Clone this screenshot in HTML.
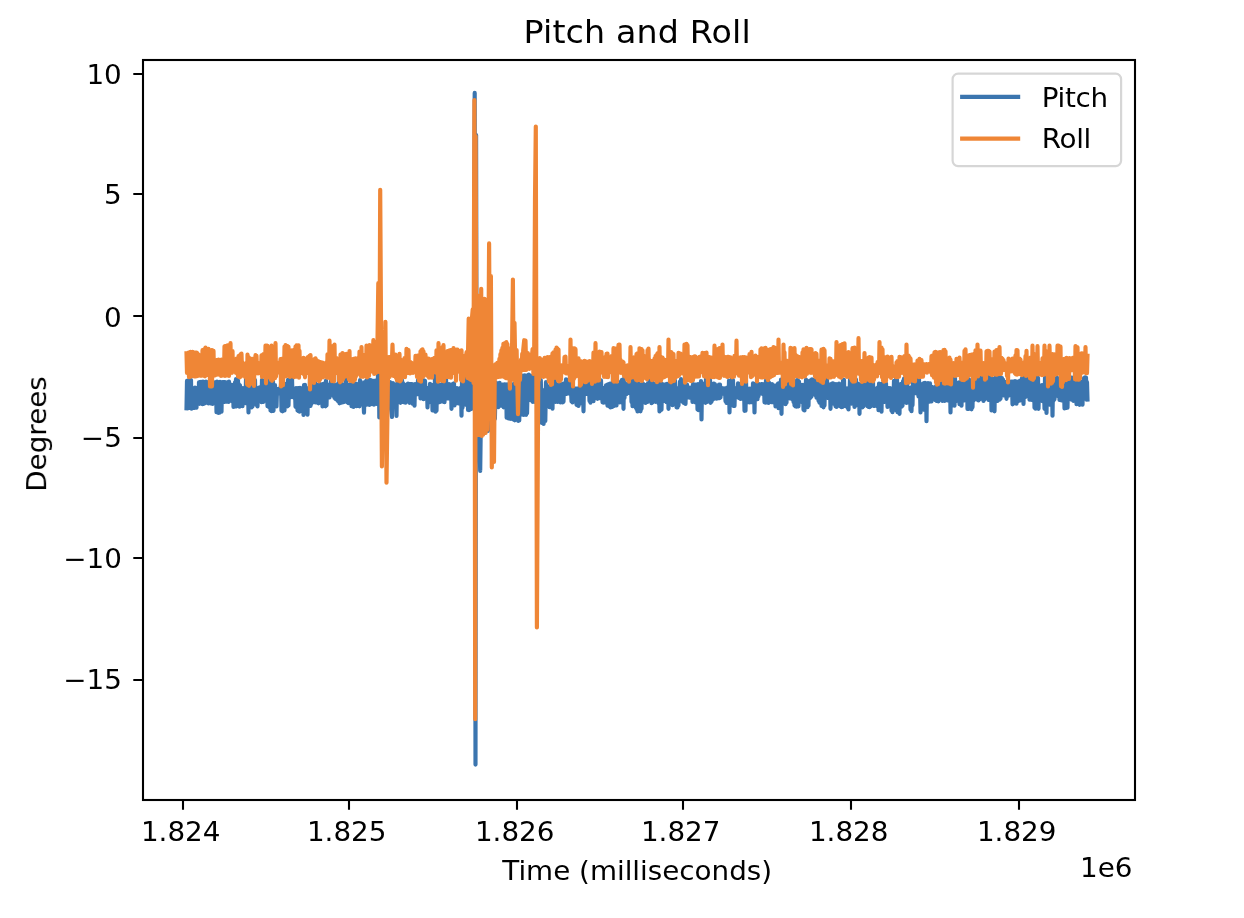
<!DOCTYPE html>
<html lang="en"><head><meta charset="utf-8"><title>Pitch and Roll</title>
<style>html,body{margin:0;padding:0;background:#fff}svg{display:block}</style></head>
<body>
<svg width="1244" height="918" viewBox="0 0 1244 918" font-family="DejaVu Sans, Liberation Sans, sans-serif" fill="#000">
<rect width="1244" height="918" fill="#fff"/>
<defs><filter id="soft" x="0" y="0" width="100%" height="100%" filterUnits="userSpaceOnUse" color-interpolation-filters="sRGB"><feGaussianBlur stdDeviation="0.75"/></filter></defs>
<g filter="url(#soft)">
<g fill="none" stroke-width="4.17" stroke-linejoin="round" stroke-linecap="square">
<path d="M186.50 408.3 L187.00 380.9 L187.50 408.3 L188.00 380.5 L188.50 407.9 L189.00 380.4 L189.50 407.8 L190.00 380.3 L190.50 407.0 L191.00 380.1 L191.50 408.6 L192.00 389.5 L192.50 407.0 L193.00 388.7 L193.50 408.0 L194.00 389.2 L194.50 407.8 L195.00 387.6 L195.50 407.7 L196.00 388.7 L196.50 407.6 L197.00 387.8 L197.50 402.4 L198.00 388.5 L198.50 402.8 L199.00 382.3 L199.50 403.8 L200.00 382.0 L200.50 402.6 L201.00 381.9 L201.50 403.3 L202.00 382.7 L202.50 404.2 L203.00 381.7 L203.50 403.9 L204.00 382.3 L204.50 403.5 L205.00 382.4 L205.50 402.8 L206.00 381.6 L206.50 402.2 L207.00 382.0 L207.50 403.0 L208.00 382.6 L208.50 403.4 L209.00 382.4 L209.50 402.9 L210.00 381.6 L210.50 403.3 L211.00 381.9 L211.50 403.0 L212.00 382.2 L212.50 404.0 L213.00 382.3 L213.50 403.0 L214.00 382.4 L214.50 402.6 L215.00 382.7 L215.50 403.1 L216.00 382.1 L216.50 412.2 L217.00 381.7 L217.50 411.1 L218.00 382.3 L218.50 413.0 L219.00 382.3 L219.50 412.7 L220.00 381.9 L220.50 412.0 L221.00 382.4 L221.50 411.7 L222.00 382.3 L222.50 401.8 L223.00 382.1 L223.50 401.3 L224.00 382.4 L224.50 401.9 L225.00 382.0 L225.50 401.5 L226.00 382.9 L226.50 401.7 L227.00 382.8 L227.50 401.4 L228.00 382.0 L228.50 402.0 L229.00 381.6 L229.50 400.6 L230.00 385.1 L230.50 400.6 L231.00 384.6 L231.50 400.8 L232.00 385.0 L232.50 401.5 L233.00 384.9 L233.50 407.0 L234.00 385.3 L234.50 406.6 L235.00 382.4 L235.50 406.1 L236.00 379.1 L236.50 406.3 L237.00 379.7 L237.50 405.9 L238.00 380.4 L238.50 405.5 L239.00 384.4 L239.50 406.6 L240.00 385.3 L240.50 405.8 L241.00 389.1 L241.50 405.5 L242.00 388.6 L242.50 406.2 L243.00 388.2 L243.50 397.6 L244.00 388.0 L244.50 397.9 L245.00 388.3 L245.50 403.1 L246.00 379.4 L246.50 401.3 L247.00 380.6 L247.50 401.6 L248.00 388.2 L248.50 412.5 L249.00 383.7 L249.50 407.3 L250.00 384.9 L250.50 405.6 L251.00 384.0 L251.50 407.5 L252.00 380.4 L252.50 406.5 L253.00 378.7 L253.50 393.3 L254.00 380.0 L254.50 400.9 L255.00 380.1 L255.50 401.7 L256.00 387.8 L256.50 405.0 L257.00 388.4 L257.50 406.4 L258.00 388.4 L258.50 397.3 L259.00 387.5 L259.50 398.5 L260.00 388.3 L260.50 398.3 L261.00 386.9 L261.50 402.2 L262.00 379.8 L262.50 401.8 L263.00 380.6 L263.50 401.8 L264.00 383.4 L264.50 398.7 L265.00 384.3 L265.50 396.6 L266.00 385.4 L266.50 398.0 L267.00 383.5 L267.50 406.1 L268.00 380.0 L268.50 406.8 L269.00 380.9 L269.50 405.5 L270.00 380.9 L270.50 410.4 L271.00 380.7 L271.50 411.1 L272.00 380.5 L272.50 410.8 L273.00 381.4 L273.50 410.8 L274.00 387.6 L274.50 406.5 L275.00 385.0 L275.50 405.2 L276.00 388.5 L276.50 406.4 L277.00 389.1 L277.50 393.6 L278.00 389.1 L278.50 392.7 L279.00 388.8 L279.50 393.3 L280.00 388.1 L280.50 393.2 L281.00 383.7 L281.50 410.8 L282.00 385.7 L282.50 411.3 L283.00 384.7 L283.50 410.5 L284.00 385.5 L284.50 410.5 L285.00 383.9 L285.50 400.5 L286.00 384.6 L286.50 403.4 L287.00 389.3 L287.50 406.3 L288.00 379.8 L288.50 405.4 L289.00 379.7 L289.50 397.4 L290.00 380.5 L290.50 397.3 L291.00 381.5 L291.50 396.6 L292.00 378.2 L292.50 397.0 L293.00 389.6 L293.50 397.0 L294.00 389.4 L294.50 398.1 L295.00 388.7 L295.50 406.8 L296.00 388.2 L296.50 405.8 L297.00 388.6 L297.50 410.5 L298.00 388.0 L298.50 411.2 L299.00 388.1 L299.50 411.7 L300.00 387.8 L300.50 411.1 L301.00 389.3 L301.50 410.7 L302.00 388.2 L302.50 406.5 L303.00 389.1 L303.50 415.0 L304.00 385.1 L304.50 407.1 L305.00 384.8 L305.50 407.2 L306.00 389.2 L306.50 405.8 L307.00 388.2 L307.50 414.6 L308.00 388.3 L308.50 398.5 L309.00 388.6 L309.50 404.8 L310.00 379.4 L310.50 405.9 L311.00 380.7 L311.50 403.7 L312.00 381.3 L312.50 402.1 L313.00 379.0 L313.50 401.1 L314.00 385.3 L314.50 402.2 L315.00 379.8 L315.50 402.3 L316.00 384.7 L316.50 402.3 L317.00 385.3 L317.50 401.8 L318.00 384.9 L318.50 403.3 L319.00 384.8 L319.50 402.4 L320.00 384.1 L320.50 402.6 L321.00 384.7 L321.50 402.1 L322.00 384.4 L322.50 406.4 L323.00 384.1 L323.50 405.9 L324.00 384.4 L324.50 405.4 L325.00 383.1 L325.50 406.3 L326.00 380.5 L326.50 405.4 L327.00 385.0 L327.50 397.9 L328.00 384.9 L328.50 396.6 L329.00 384.7 L329.50 397.5 L330.00 384.3 L330.50 394.2 L331.00 380.8 L331.50 394.0 L332.00 381.0 L332.50 393.9 L333.00 380.4 L333.50 395.9 L334.00 384.8 L334.50 397.8 L335.00 385.0 L335.50 399.0 L336.00 385.0 L336.50 397.8 L337.00 384.4 L337.50 400.6 L338.00 384.3 L338.50 401.4 L339.00 375.0 L339.50 403.3 L340.00 384.4 L340.50 401.8 L341.00 383.8 L341.50 402.6 L342.00 384.0 L342.50 400.0 L343.00 384.8 L343.50 402.2 L344.00 390.1 L344.50 393.8 L345.00 389.0 L345.50 393.4 L346.00 376.5 L346.50 401.8 L347.00 388.6 L347.50 402.4 L348.00 385.0 L348.50 403.2 L349.00 385.5 L349.50 396.0 L350.00 384.3 L350.50 398.6 L351.00 384.5 L351.50 406.2 L352.00 384.2 L352.50 405.7 L353.00 383.7 L353.50 407.0 L354.00 385.5 L354.50 398.5 L355.00 385.0 L355.50 398.0 L356.00 383.7 L356.50 406.2 L357.00 385.3 L357.50 404.5 L358.00 384.1 L358.50 406.0 L359.00 384.9 L359.50 406.3 L360.00 380.2 L360.45 403.5 L360.90 381.8 L361.35 404.0 L361.80 383.1 L362.25 400.9 L362.70 383.8 L364.00 412.6 L364.80 382.0 L365.40 382.8 L365.85 403.9 L366.30 380.6 L366.75 404.7 L367.20 380.2 L367.65 402.0 L368.10 381.4 L368.55 402.8 L369.00 380.2 L369.45 405.0 L369.90 382.0 L370.35 404.5 L370.80 380.1 L371.25 401.6 L371.70 380.5 L372.15 403.9 L372.60 385.6 L373.05 400.8 L373.50 380.8 L373.95 404.7 L374.40 382.3 L374.85 402.1 L375.30 380.7 L375.75 398.8 L376.20 382.1 L376.65 403.9 L377.70 396.0 L378.60 329.0 L379.30 417.5 L380.20 384.0 L381.00 382.2 L381.45 404.6 L381.90 384.4 L382.35 402.4 L382.80 385.2 L383.25 404.8 L383.70 382.9 L384.15 402.7 L384.60 383.7 L385.05 405.2 L385.50 386.3 L385.95 404.5 L386.40 382.7 L386.85 404.4 L387.30 382.7 L387.75 405.3 L388.20 384.1 L388.65 403.2 L389.10 384.4 L389.55 405.9 L390.00 382.1 L390.45 403.6 L392.00 417.0 L392.90 383.0 L393.50 402.7 L394.00 385.0 L394.50 399.9 L395.00 384.9 L395.50 394.1 L396.00 385.1 L396.50 415.9 L397.00 383.9 L397.50 397.4 L398.00 379.9 L398.50 397.2 L399.00 379.5 L399.50 396.6 L400.00 381.4 L400.50 402.8 L401.00 380.5 L401.50 402.1 L402.00 380.2 L402.50 401.3 L403.00 383.1 L403.50 401.4 L404.00 385.6 L404.50 402.4 L405.00 384.9 L405.50 402.7 L406.00 384.8 L406.50 401.3 L407.00 384.8 L407.50 400.4 L408.00 383.7 L408.50 401.7 L409.00 385.0 L409.50 402.8 L410.00 384.0 L410.50 401.7 L411.00 384.3 L411.50 402.1 L412.00 384.0 L412.50 403.6 L413.00 384.8 L413.50 401.3 L414.00 384.7 L414.50 405.7 L415.00 384.0 L415.50 393.1 L416.00 388.2 L416.50 394.4 L417.00 387.7 L417.50 394.2 L418.00 380.0 L418.50 392.6 L419.00 379.5 L419.50 393.9 L420.00 380.7 L420.50 398.5 L421.00 380.4 L421.50 397.0 L422.00 380.3 L422.50 397.0 L423.00 380.7 L423.50 399.2 L424.00 380.4 L424.50 396.8 L425.00 380.9 L425.50 398.5 L426.00 388.6 L426.50 398.0 L427.00 387.8 L427.50 407.5 L428.00 390.0 L428.50 402.6 L429.00 388.1 L429.50 400.6 L430.00 383.8 L430.50 401.5 L431.00 385.3 L431.50 402.0 L432.00 385.9 L432.50 410.5 L433.00 384.8 L433.50 410.4 L434.00 384.5 L434.50 409.2 L435.00 374.6 L435.50 411.7 L436.00 383.8 L436.50 410.6 L437.00 383.8 L437.50 402.2 L438.00 384.8 L438.50 402.3 L439.00 384.6 L439.50 402.1 L440.00 385.4 L440.50 401.6 L441.00 384.6 L441.50 397.1 L442.00 384.5 L442.50 397.9 L443.00 380.0 L443.50 401.8 L444.00 378.7 L444.50 402.1 L445.00 381.0 L445.50 397.7 L446.00 376.5 L446.50 398.3 L447.00 384.7 L447.50 398.4 L448.00 384.5 L448.50 398.3 L449.00 384.0 L449.50 398.4 L450.00 386.2 L450.50 398.1 L451.00 385.0 L451.50 408.8 L452.00 384.4 L452.50 396.9 L453.00 385.2 L453.50 405.2 L454.00 383.4 L454.50 405.5 L455.00 389.9 L455.50 401.9 L456.00 389.4 L456.50 403.1 L457.00 388.1 L457.50 403.1 L458.00 389.8 L458.50 403.4 L459.00 390.3 L459.50 400.8 L460.00 388.4 L460.50 401.6 L461.00 387.7 L461.50 415.6 L462.00 380.8 L462.50 407.8 L463.00 380.4 L463.50 392.1 L464.00 382.3 L464.45 397.8 L464.90 381.8 L465.35 403.9 L465.80 379.1 L466.25 405.0 L466.70 378.8 L467.15 405.5 L467.60 381.6 L468.05 409.9 L468.50 380.6 L468.95 410.2 L469.40 381.4 L469.85 408.2 L470.30 379.8 L470.75 409.1 L471.20 381.3 L471.65 404.8 L472.10 381.2 L472.55 408.3 L473.00 380.0 L473.80 396.0 L474.70 92.9 L475.50 764.6 L476.10 135.0 L476.60 400.0 L477.40 425.0 L478.30 395.0 L479.20 430.0 L480.20 470.9 L481.10 400.0 L481.80 395.5 L482.40 421.5 L483.00 391.4 L483.60 426.2 L484.20 395.4 L484.80 427.6 L485.40 394.1 L486.00 426.7 L486.60 393.2 L487.90 431.0 L488.80 392.0 L489.50 390.0 L490.10 418.5 L490.70 389.3 L491.30 415.6 L491.90 390.8 L492.50 418.6 L493.10 391.4 L493.70 418.9 L494.30 389.4 L494.90 418.6 L495.50 389.7 L496.00 382.7 L496.45 407.0 L496.90 383.6 L497.35 406.6 L497.80 384.6 L498.25 407.1 L498.70 384.6 L499.15 405.0 L499.60 382.9 L500.05 404.8 L500.50 384.3 L500.95 405.6 L501.40 384.8 L501.85 405.6 L502.30 384.6 L502.75 404.7 L503.20 384.5 L503.65 407.3 L504.10 384.7 L504.55 407.1 L505.00 384.4 L505.45 406.3 L506.20 386.9 L506.65 417.6 L507.10 384.4 L507.55 416.4 L508.00 385.7 L508.45 418.4 L508.90 385.3 L509.35 416.6 L509.80 385.0 L510.25 418.8 L510.70 384.4 L511.15 417.4 L511.60 385.6 L512.05 418.7 L512.50 384.6 L512.95 419.3 L513.40 384.2 L513.85 418.4 L514.30 384.4 L514.75 420.3 L515.20 384.4 L515.65 419.2 L516.10 386.3 L516.55 417.0 L517.00 384.5 L517.45 419.8 L517.90 385.3 L518.35 420.9 L518.80 384.6 L519.25 420.5 L519.70 387.0 L520.30 378.2 L520.75 414.8 L521.20 377.4 L521.65 413.2 L522.10 376.4 L522.55 414.2 L523.00 375.5 L523.45 415.0 L523.90 377.1 L524.35 414.4 L524.80 375.4 L525.25 414.6 L525.70 376.1 L526.15 414.8 L526.60 375.5 L527.05 413.1 L527.90 375.4 L528.35 399.2 L528.80 374.6 L529.25 395.8 L529.70 375.4 L530.15 398.1 L530.60 375.9 L531.05 400.4 L531.50 376.3 L531.95 399.7 L532.40 376.7 L532.85 402.0 L533.30 377.9 L533.75 401.4 L534.20 376.6 L534.65 401.5 L535.10 377.3 L535.55 402.2 L536.00 379.0 L536.45 401.8 L536.90 378.3 L537.35 403.4 L537.80 378.1 L538.25 404.7 L538.70 382.3 L539.15 404.1 L539.60 379.8 L540.80 380.0 L541.80 423.0 L542.80 390.0 L543.60 424.0 L544.60 392.0 L545.30 421.0 L546.00 382.0 L546.50 399.0 L547.00 389.2 L547.50 398.4 L548.00 390.1 L548.50 406.2 L549.00 387.9 L549.50 407.2 L550.00 385.9 L550.50 407.0 L551.00 384.3 L551.50 406.6 L552.00 383.8 L552.50 408.6 L553.00 379.7 L553.50 397.4 L554.00 380.3 L554.50 398.4 L555.00 380.0 L555.50 402.0 L556.00 385.4 L556.50 400.2 L557.00 384.7 L557.50 401.9 L558.00 384.9 L558.50 400.9 L559.00 384.1 L559.50 401.6 L560.00 384.6 L560.50 402.4 L561.00 384.5 L561.50 401.2 L562.00 384.0 L562.50 402.5 L563.00 383.7 L563.50 401.8 L564.00 385.2 L564.50 394.5 L565.00 384.5 L565.50 391.7 L566.00 379.4 L566.50 394.0 L567.00 380.4 L567.50 393.1 L568.00 380.2 L568.50 393.4 L569.00 379.5 L569.50 393.6 L570.00 380.6 L570.50 393.7 L571.00 389.5 L571.50 401.3 L572.00 387.5 L572.50 402.4 L573.00 389.0 L573.50 397.1 L574.00 388.2 L574.50 397.8 L575.00 389.3 L575.50 398.3 L576.00 388.8 L576.50 404.8 L577.00 388.7 L577.50 405.3 L578.00 389.3 L578.50 405.9 L579.00 388.2 L579.50 401.3 L580.00 384.3 L580.50 403.3 L581.00 384.5 L581.50 402.6 L582.00 389.0 L582.50 402.8 L583.00 389.5 L583.50 411.3 L584.00 379.1 L584.50 393.3 L585.00 384.3 L585.50 394.2 L586.00 383.8 L586.50 393.2 L587.00 385.0 L587.50 393.2 L588.00 385.3 L588.50 394.3 L589.00 383.2 L589.50 401.0 L590.00 383.7 L590.50 402.7 L591.00 389.3 L591.50 401.3 L592.00 380.8 L592.50 401.0 L593.00 380.3 L593.50 401.1 L594.00 381.0 L594.50 398.2 L595.00 379.9 L595.50 397.4 L596.00 381.0 L596.50 397.9 L597.00 381.0 L597.50 398.8 L598.00 383.3 L598.50 397.9 L599.00 379.4 L599.50 398.1 L600.00 380.3 L600.50 398.1 L601.00 380.4 L601.50 398.1 L602.00 387.9 L602.50 402.3 L603.00 388.2 L603.50 402.7 L604.00 387.8 L604.50 402.4 L605.00 388.5 L605.50 402.3 L606.00 385.3 L606.50 401.4 L607.00 385.0 L607.50 405.7 L608.00 384.3 L608.50 405.5 L609.00 386.2 L609.50 406.4 L610.00 383.7 L610.50 407.4 L611.00 384.9 L611.50 405.8 L612.00 385.2 L612.50 406.8 L613.00 375.2 L613.50 406.2 L614.00 385.4 L614.50 405.5 L615.00 387.6 L615.50 405.3 L616.00 388.4 L616.50 405.4 L617.00 383.9 L617.50 402.1 L618.00 385.3 L618.50 400.8 L619.00 388.2 L619.50 402.4 L620.00 389.1 L620.50 402.2 L621.00 381.3 L621.50 402.4 L622.00 379.9 L622.50 398.2 L623.00 381.0 L623.50 408.8 L624.00 378.9 L624.50 398.0 L625.00 384.7 L625.50 393.5 L626.00 384.0 L626.50 394.0 L627.00 385.7 L627.50 392.4 L628.00 383.7 L628.50 393.0 L629.00 384.8 L629.50 392.7 L630.00 385.6 L630.50 393.4 L631.00 383.7 L631.50 402.0 L632.00 380.6 L632.50 406.1 L633.00 379.0 L633.50 405.4 L634.00 381.0 L634.50 405.8 L635.00 385.5 L635.50 407.2 L636.00 378.7 L636.50 408.9 L637.00 385.7 L637.50 411.4 L638.00 383.8 L638.50 411.2 L639.00 383.8 L639.50 410.8 L640.00 385.4 L640.50 411.3 L641.00 384.8 L641.50 408.8 L642.00 384.6 L642.50 394.3 L643.00 383.7 L643.50 394.2 L644.00 385.2 L644.50 393.8 L645.00 385.5 L645.50 403.0 L646.00 384.8 L646.50 401.2 L647.00 385.4 L647.50 401.9 L648.00 383.1 L648.50 399.3 L649.00 386.2 L649.50 399.5 L650.00 380.1 L650.50 400.7 L651.00 384.7 L651.50 403.2 L652.00 385.3 L652.50 402.5 L653.00 383.0 L653.50 401.7 L654.00 384.4 L654.50 401.5 L655.00 384.3 L655.50 401.8 L656.00 384.2 L656.50 400.9 L657.00 384.6 L657.50 401.6 L658.00 383.9 L658.50 403.1 L659.00 385.9 L659.50 411.4 L660.00 383.8 L660.50 410.3 L661.00 383.9 L661.50 409.6 L662.00 384.0 L662.50 398.6 L663.00 384.3 L663.50 398.1 L664.00 385.3 L664.50 401.0 L665.00 384.5 L665.50 400.4 L666.00 384.3 L666.50 402.1 L667.00 383.9 L667.50 401.0 L668.00 384.7 L668.50 408.8 L669.00 383.7 L669.50 402.2 L670.00 386.1 L670.50 401.7 L671.00 384.8 L671.50 403.7 L672.00 384.1 L672.50 405.2 L673.00 384.6 L673.50 398.1 L674.00 383.9 L674.50 398.5 L675.00 380.6 L675.50 398.1 L676.00 389.4 L676.50 407.3 L677.00 388.2 L677.50 407.4 L678.00 388.8 L678.50 405.4 L679.00 388.6 L679.50 394.9 L680.00 381.6 L680.50 394.4 L681.00 379.2 L681.50 392.7 L682.00 383.5 L682.50 401.7 L683.00 383.5 L683.50 402.8 L684.00 384.6 L684.50 402.3 L685.00 384.3 L685.50 404.0 L686.00 384.0 L686.50 397.5 L687.00 384.5 L687.50 397.3 L688.00 389.4 L688.50 397.5 L689.00 389.2 L689.50 397.6 L690.00 387.7 L690.50 396.7 L691.00 389.1 L691.50 397.1 L692.00 388.4 L692.50 402.0 L693.00 384.0 L693.50 401.7 L694.00 385.4 L694.50 401.8 L695.00 384.7 L695.50 402.4 L696.00 384.8 L696.50 396.7 L697.00 385.2 L697.50 409.5 L698.00 384.2 L698.50 410.1 L699.00 384.5 L699.50 405.0 L700.00 385.4 L700.50 406.7 L701.00 381.1 L701.50 419.4 L702.00 383.9 L702.50 402.4 L703.00 383.6 L703.50 400.8 L704.00 384.2 L704.50 400.8 L705.00 384.3 L705.50 402.8 L706.00 376.4 L706.50 402.2 L707.00 389.1 L707.50 401.6 L708.00 378.8 L708.50 401.1 L709.00 378.8 L709.50 401.5 L710.00 379.7 L710.50 402.8 L711.00 383.8 L711.50 401.8 L712.00 383.8 L712.50 399.7 L713.00 383.8 L713.50 398.0 L714.00 383.6 L714.50 398.6 L715.00 384.3 L715.50 397.4 L716.00 388.6 L716.50 398.6 L717.00 387.8 L717.50 398.3 L718.00 386.8 L718.50 396.6 L719.00 384.7 L719.50 398.2 L720.00 384.5 L720.50 397.5 L721.00 387.8 L721.50 393.5 L722.00 388.1 L722.50 393.7 L723.00 388.7 L723.50 393.0 L724.00 388.3 L724.50 392.8 L725.00 389.3 L725.50 401.2 L726.00 389.0 L726.50 402.9 L727.00 387.6 L727.50 402.6 L728.00 388.6 L728.50 402.1 L729.00 380.6 L729.50 412.5 L730.00 384.5 L730.50 402.3 L731.00 380.6 L731.50 402.7 L732.00 378.8 L732.50 404.1 L733.00 380.0 L733.50 405.9 L734.00 389.0 L734.50 406.0 L735.00 388.4 L735.50 393.2 L736.00 389.1 L736.50 392.9 L737.00 387.7 L737.50 391.8 L738.00 383.4 L738.50 397.8 L739.00 384.9 L739.50 397.1 L740.00 384.1 L740.50 399.0 L741.00 385.4 L741.50 398.0 L742.00 385.1 L742.50 396.6 L743.00 386.9 L743.50 398.8 L744.00 385.9 L744.50 410.8 L745.00 380.0 L745.50 410.7 L746.00 380.3 L746.50 400.9 L747.00 389.6 L747.50 402.1 L748.00 388.7 L748.50 402.0 L749.00 389.5 L749.50 402.3 L750.00 388.5 L750.50 401.4 L751.00 389.4 L751.50 402.1 L752.00 388.4 L752.50 398.9 L753.00 383.4 L753.50 397.8 L754.00 384.2 L754.50 412.5 L755.00 384.2 L755.50 399.5 L756.00 384.5 L756.50 397.1 L757.00 385.3 L757.50 399.1 L758.00 384.9 L758.50 396.1 L759.00 384.0 L759.50 393.6 L760.00 385.1 L760.50 393.3 L761.00 384.3 L761.50 393.5 L762.00 384.2 L762.50 393.9 L763.00 384.5 L763.50 394.5 L764.00 384.1 L764.50 402.3 L765.00 384.6 L765.50 402.7 L766.00 380.3 L766.50 401.4 L767.00 380.4 L767.50 401.9 L768.00 379.9 L768.50 403.0 L769.00 382.5 L769.50 401.6 L770.00 389.1 L770.50 393.9 L771.00 388.7 L771.50 402.1 L772.00 384.2 L772.50 402.2 L773.00 385.5 L773.50 402.3 L774.00 385.7 L774.50 400.1 L775.00 385.7 L775.50 406.5 L776.00 385.8 L776.50 404.5 L777.00 385.0 L777.50 405.7 L778.00 383.7 L778.50 408.2 L779.00 383.1 L779.50 407.2 L780.00 384.9 L780.50 405.4 L781.00 379.6 L781.50 413.8 L782.00 379.6 L782.50 397.7 L783.00 379.9 L783.50 402.2 L784.00 380.2 L784.50 402.6 L785.00 380.8 L785.50 404.2 L786.00 379.7 L786.50 402.6 L787.00 380.6 L787.50 398.4 L788.00 379.0 L788.50 397.2 L789.00 380.4 L789.50 398.3 L790.00 389.0 L790.50 397.9 L791.00 384.4 L791.50 398.8 L792.00 383.8 L792.50 397.1 L793.00 384.3 L793.50 401.9 L794.00 389.2 L794.50 405.4 L795.00 383.9 L795.50 406.4 L796.00 383.0 L796.50 406.7 L797.00 380.0 L797.50 406.3 L798.00 380.4 L798.50 406.3 L799.00 381.5 L799.50 401.8 L800.00 385.2 L800.50 401.5 L801.00 385.8 L801.50 402.0 L802.00 384.8 L802.50 402.4 L803.00 385.7 L803.50 409.8 L804.00 385.4 L804.50 410.4 L805.00 384.4 L805.50 405.6 L806.00 379.7 L806.50 404.6 L807.00 381.0 L807.50 407.1 L808.00 381.9 L808.50 405.8 L809.00 381.2 L809.50 398.5 L810.00 380.6 L810.50 397.6 L811.00 380.4 L811.50 396.4 L812.00 379.3 L812.50 393.4 L813.00 380.8 L813.50 392.0 L814.00 380.4 L814.50 392.7 L815.00 380.2 L815.50 395.1 L816.00 380.2 L816.50 397.6 L817.00 379.0 L817.50 396.6 L818.00 382.5 L818.50 400.8 L819.00 380.9 L819.50 402.7 L820.00 380.1 L820.50 403.0 L821.00 380.9 L821.50 406.0 L822.00 380.6 L822.50 404.9 L823.00 380.9 L823.50 407.3 L824.00 379.6 L824.50 405.4 L825.00 379.6 L825.50 396.5 L826.00 379.5 L826.50 395.7 L827.00 379.9 L827.50 398.0 L828.00 384.0 L828.50 398.0 L829.00 385.3 L829.50 397.8 L830.00 384.5 L830.50 408.8 L831.00 384.8 L831.50 402.1 L832.00 383.7 L832.50 401.2 L833.00 383.4 L833.50 403.6 L834.00 384.1 L834.50 402.9 L835.00 385.5 L835.50 406.3 L836.00 384.0 L836.50 407.0 L837.00 384.7 L837.50 405.9 L838.00 385.3 L838.50 397.4 L839.00 383.6 L839.50 395.6 L840.00 384.7 L840.50 406.5 L841.00 384.4 L841.50 407.2 L842.00 385.1 L842.50 407.0 L843.00 380.5 L843.50 406.2 L844.00 379.9 L844.50 405.7 L845.00 390.4 L845.50 406.0 L846.00 388.6 L846.50 406.2 L847.00 388.4 L847.50 407.7 L848.00 389.3 L848.50 409.4 L849.00 388.9 L849.50 396.4 L850.00 379.6 L850.50 397.2 L851.00 380.8 L851.50 403.6 L852.00 382.2 L852.50 402.4 L853.00 380.3 L853.50 402.0 L854.00 378.9 L854.50 407.0 L855.00 380.1 L855.50 405.6 L856.00 379.5 L856.50 401.8 L857.00 389.8 L857.50 402.2 L858.00 383.7 L858.50 400.9 L859.00 385.0 L859.50 413.8 L860.00 384.5 L860.50 392.8 L861.00 385.0 L861.50 405.7 L862.00 384.8 L862.50 407.3 L863.00 385.0 L863.50 406.1 L864.00 383.8 L864.50 402.2 L865.00 385.1 L865.50 402.3 L866.00 384.0 L866.50 402.8 L867.00 378.5 L867.50 406.1 L868.00 379.5 L868.50 406.9 L869.00 381.2 L869.50 407.1 L870.00 389.7 L870.50 406.4 L871.00 388.9 L871.50 393.1 L872.00 388.6 L872.50 394.4 L873.00 380.7 L873.50 405.8 L874.00 389.3 L874.50 405.9 L875.00 389.5 L875.50 405.4 L876.00 389.6 L876.50 406.0 L877.00 388.2 L877.50 405.1 L878.00 387.4 L878.50 410.1 L879.00 383.6 L879.50 408.3 L880.00 384.3 L880.50 410.2 L881.00 385.1 L881.50 411.6 L882.00 383.5 L882.50 401.5 L883.00 384.2 L883.50 400.9 L884.00 384.6 L884.50 402.0 L885.00 384.8 L885.50 401.7 L886.00 383.3 L886.50 402.0 L887.00 388.7 L887.50 407.0 L888.00 387.9 L888.50 405.8 L889.00 388.5 L889.50 397.9 L890.00 388.0 L890.50 397.1 L891.00 388.6 L891.50 410.6 L892.00 388.9 L892.50 412.1 L893.00 390.2 L893.50 397.7 L894.00 380.8 L894.50 409.7 L895.00 380.7 L895.50 409.9 L896.00 379.3 L896.50 410.5 L897.00 379.2 L897.50 412.2 L898.00 388.0 L898.50 407.5 L899.00 389.1 L899.50 413.8 L900.00 387.7 L900.50 405.6 L901.00 383.8 L901.50 406.7 L902.00 388.4 L902.50 405.8 L903.00 381.2 L903.50 401.9 L904.00 378.6 L904.50 401.1 L905.00 379.6 L905.50 400.6 L906.00 379.7 L906.50 402.9 L907.00 378.2 L907.50 402.5 L908.00 389.3 L908.50 402.4 L909.00 388.8 L909.50 400.9 L910.00 387.8 L910.50 409.8 L911.00 387.3 L911.50 411.2 L912.00 388.2 L912.50 405.1 L913.00 383.2 L913.50 393.8 L914.00 387.9 L914.50 393.3 L915.00 388.4 L915.50 393.2 L916.00 387.9 L916.50 393.2 L917.00 378.2 L917.50 393.8 L918.00 379.4 L918.50 396.5 L919.00 378.7 L919.50 397.1 L920.00 389.7 L920.50 412.5 L921.00 388.4 L921.50 401.4 L922.00 388.2 L922.50 409.1 L923.00 383.7 L923.50 409.6 L924.00 383.1 L924.50 400.2 L925.00 382.9 L925.50 400.5 L926.00 383.8 L926.50 421.2 L927.00 384.2 L927.50 396.9 L928.00 383.0 L928.50 399.9 L929.00 384.5 L929.50 401.6 L930.00 383.3 L930.50 400.1 L931.00 387.3 L931.50 401.4 L932.00 386.9 L932.50 393.5 L933.00 387.9 L933.50 393.5 L934.00 387.8 L934.50 391.7 L935.00 388.4 L935.50 400.1 L936.00 386.1 L936.50 400.9 L937.00 388.2 L937.50 399.8 L938.00 388.1 L938.50 401.3 L939.00 384.0 L939.50 400.0 L940.00 384.3 L940.50 399.7 L941.00 384.0 L941.50 399.2 L942.00 383.1 L942.50 400.9 L943.00 383.8 L943.50 400.7 L944.00 378.5 L944.50 400.9 L945.00 378.9 L945.50 399.0 L946.00 380.1 L946.50 400.1 L947.00 378.9 L947.50 400.4 L948.00 379.5 L948.50 400.4 L949.00 377.7 L949.50 399.3 L950.00 379.9 L950.50 412.5 L951.00 378.1 L951.50 404.7 L952.00 379.4 L952.50 405.3 L953.00 379.4 L953.50 404.1 L954.00 379.8 L954.50 405.7 L955.00 378.4 L955.50 399.9 L956.00 383.7 L956.50 401.0 L957.00 383.5 L957.50 399.2 L958.00 382.9 L958.50 400.6 L959.00 382.3 L959.50 404.1 L960.00 383.4 L960.50 402.9 L961.00 381.9 L961.50 405.7 L962.00 381.8 L962.50 401.0 L963.00 382.9 L963.50 400.2 L964.00 382.5 L964.50 400.5 L965.00 377.9 L965.50 399.8 L966.00 378.2 L966.50 399.3 L967.00 378.2 L967.50 409.0 L968.00 379.5 L968.50 408.9 L969.00 379.3 L969.50 408.7 L970.00 382.0 L970.50 408.6 L971.00 383.1 L971.50 409.3 L972.00 381.9 L972.50 407.3 L973.00 382.5 L973.50 400.4 L974.00 382.9 L974.50 399.4 L975.00 382.3 L975.50 398.3 L976.00 383.0 L976.50 399.3 L977.00 381.7 L977.50 398.5 L978.00 379.1 L978.50 400.4 L979.00 378.2 L979.50 397.7 L980.00 379.5 L980.50 399.0 L981.00 377.0 L981.50 397.7 L982.00 378.1 L982.50 398.9 L983.00 376.2 L983.50 400.9 L984.00 377.5 L984.50 399.4 L985.00 377.7 L985.50 394.1 L986.00 382.7 L986.50 394.9 L987.00 372.9 L987.50 397.3 L988.00 381.7 L988.50 399.9 L989.00 382.2 L989.50 399.8 L990.00 377.8 L990.50 399.5 L991.00 378.1 L991.50 410.5 L992.00 382.5 L992.50 407.9 L993.00 381.1 L993.50 407.0 L994.00 378.5 L994.50 411.3 L995.00 378.8 L995.50 399.3 L996.00 377.4 L996.50 399.7 L997.00 377.6 L997.50 400.9 L998.00 377.1 L998.50 398.0 L999.00 376.8 L999.50 399.6 L1000.00 377.7 L1000.50 398.7 L1001.00 377.6 L1001.50 395.3 L1002.00 378.0 L1002.50 395.0 L1003.00 379.5 L1003.50 395.5 L1004.00 386.2 L1004.50 395.3 L1005.00 381.9 L1005.50 395.4 L1006.00 382.0 L1006.50 398.8 L1007.00 382.2 L1007.50 394.7 L1008.00 381.0 L1008.50 395.6 L1009.00 381.7 L1009.50 394.2 L1010.00 384.2 L1010.50 393.6 L1011.00 381.5 L1011.50 394.9 L1012.00 381.5 L1012.50 404.3 L1013.00 381.5 L1013.50 402.8 L1014.00 381.9 L1014.50 402.3 L1015.00 381.1 L1015.50 403.4 L1016.00 382.5 L1016.50 403.6 L1017.00 381.6 L1017.50 399.9 L1018.00 382.6 L1018.50 400.9 L1019.00 383.0 L1019.50 399.6 L1020.00 380.5 L1020.50 400.4 L1021.00 382.3 L1021.50 399.9 L1022.00 378.0 L1022.50 400.3 L1023.00 377.3 L1023.50 404.0 L1024.00 377.0 L1024.50 393.7 L1025.00 377.5 L1025.50 396.9 L1026.00 377.9 L1026.50 393.8 L1027.00 377.0 L1027.50 394.9 L1028.00 378.4 L1028.50 395.0 L1029.00 377.0 L1029.50 399.6 L1030.00 378.0 L1030.50 399.7 L1031.00 377.9 L1031.50 398.9 L1032.00 377.6 L1032.50 400.1 L1033.00 377.6 L1033.50 399.2 L1034.00 373.8 L1034.50 407.7 L1035.00 374.9 L1035.50 408.6 L1036.00 376.6 L1036.50 407.2 L1037.00 378.0 L1037.50 407.8 L1038.00 377.9 L1038.50 408.8 L1039.00 386.3 L1039.50 398.9 L1040.00 385.7 L1040.50 400.4 L1041.00 385.9 L1041.50 398.6 L1042.00 385.1 L1042.50 401.1 L1043.00 385.7 L1043.50 390.1 L1044.00 386.8 L1044.50 408.8 L1045.00 377.9 L1045.50 403.1 L1046.00 377.8 L1046.50 412.9 L1047.00 383.0 L1047.50 404.6 L1048.00 381.7 L1048.50 404.2 L1049.00 382.0 L1049.50 404.7 L1050.00 382.5 L1050.50 399.2 L1051.00 377.0 L1051.50 398.9 L1052.00 382.4 L1052.50 415.7 L1053.00 382.6 L1053.50 400.7 L1054.00 382.6 L1054.50 399.2 L1055.00 382.2 L1055.50 394.4 L1056.00 379.0 L1056.50 395.0 L1057.00 377.6 L1057.50 395.9 L1058.00 381.8 L1058.50 395.0 L1059.00 380.7 L1059.50 400.0 L1060.00 385.6 L1060.50 399.9 L1061.00 387.1 L1061.50 400.5 L1062.00 385.3 L1062.50 400.0 L1063.00 386.8 L1063.50 393.6 L1064.00 386.4 L1064.50 408.4 L1065.00 381.7 L1065.50 407.3 L1066.00 381.4 L1066.50 407.9 L1067.00 381.2 L1067.50 407.6 L1068.00 381.2 L1068.50 398.9 L1069.00 379.2 L1069.50 398.6 L1070.00 378.0 L1070.50 398.5 L1071.00 377.5 L1071.50 399.6 L1072.00 377.7 L1072.50 399.5 L1073.00 382.5 L1073.50 400.9 L1074.00 380.9 L1074.50 395.3 L1075.00 381.6 L1075.50 394.5 L1076.00 382.0 L1076.50 404.1 L1077.00 381.6 L1077.50 403.5 L1078.00 383.5 L1078.50 403.6 L1079.00 382.2 L1079.50 404.8 L1080.00 381.5 L1080.50 404.3 L1081.00 381.5 L1081.50 404.1 L1082.00 381.7 L1082.50 404.6 L1083.00 381.9 L1083.50 398.7 L1084.00 378.0 L1084.50 398.7 L1085.00 377.3 L1085.50 398.8 L1086.00 377.6 L1086.50 398.7 L1087.00 382.2 L1087.50 399.5" stroke="#3b75af"/>
<path d="M186.50 353.2 L187.00 372.9 L187.50 353.1 L188.00 372.5 L188.50 352.7 L189.00 377.1 L189.50 352.7 L190.00 376.9 L190.50 351.8 L191.00 376.2 L191.50 353.4 L192.00 376.1 L192.50 351.8 L193.00 375.8 L193.50 352.8 L194.00 376.3 L194.50 352.7 L195.00 376.5 L195.50 352.6 L196.00 376.3 L196.50 352.5 L197.00 376.2 L197.50 353.4 L198.00 375.7 L198.50 356.2 L199.00 375.6 L199.50 355.1 L200.00 374.7 L200.50 355.1 L201.00 375.8 L201.50 355.3 L202.00 375.1 L202.50 350.2 L203.00 375.7 L203.50 349.9 L204.00 375.6 L204.50 349.1 L205.00 376.3 L205.50 347.6 L206.00 374.9 L206.50 349.9 L207.00 374.8 L207.50 349.9 L208.00 374.7 L208.50 348.8 L209.00 375.4 L209.50 349.9 L210.00 386.4 L210.50 351.0 L211.00 385.3 L211.50 350.1 L212.00 386.3 L212.50 350.4 L213.00 374.9 L213.50 350.9 L214.00 375.6 L214.50 360.7 L215.00 375.4 L215.50 360.0 L216.00 374.8 L216.50 360.2 L217.00 374.5 L217.50 360.0 L218.00 374.6 L218.50 359.7 L219.00 374.3 L219.50 360.6 L220.00 374.2 L220.50 360.0 L221.00 376.0 L221.50 359.7 L222.00 375.6 L222.50 360.0 L223.00 374.4 L223.50 359.8 L224.00 375.1 L224.50 346.4 L225.00 376.0 L225.50 346.1 L226.00 374.9 L226.50 346.6 L227.00 375.3 L227.50 345.4 L228.00 375.2 L228.50 353.3 L229.00 375.9 L229.50 355.3 L230.00 371.9 L230.50 343.2 L231.00 372.2 L231.50 356.1 L232.00 372.8 L232.50 351.0 L233.00 372.0 L233.50 359.8 L234.00 371.1 L234.50 359.4 L235.00 370.7 L235.50 359.6 L236.00 372.9 L236.50 358.7 L237.00 372.0 L237.50 359.9 L238.00 376.5 L238.50 356.2 L239.00 377.0 L239.50 356.0 L240.00 377.3 L240.50 354.3 L241.00 376.4 L241.50 353.7 L242.00 371.8 L242.50 362.4 L243.00 370.8 L243.50 363.7 L244.00 374.4 L244.50 364.0 L245.00 377.0 L245.50 365.0 L246.00 377.7 L246.50 362.8 L247.00 384.2 L247.50 354.5 L248.00 385.1 L248.50 357.0 L249.00 385.8 L249.50 359.8 L250.00 384.3 L250.50 358.7 L251.00 373.2 L251.50 360.1 L252.00 373.3 L252.50 361.0 L253.00 371.9 L253.50 358.6 L254.00 385.9 L254.50 358.7 L255.00 373.5 L255.50 355.2 L256.00 373.1 L256.50 355.9 L257.00 372.4 L257.50 362.7 L258.00 373.5 L258.50 364.4 L259.00 373.2 L259.50 363.1 L260.00 372.2 L260.50 364.0 L261.00 372.1 L261.50 355.4 L262.00 376.9 L262.50 355.5 L263.00 376.0 L263.50 354.0 L264.00 372.4 L264.50 355.6 L265.00 372.4 L265.50 345.6 L266.00 383.3 L266.50 345.7 L267.00 373.4 L267.50 345.8 L268.00 370.5 L268.50 351.8 L269.00 377.5 L269.50 350.8 L270.00 377.2 L270.50 350.2 L271.00 380.0 L271.50 345.7 L272.00 380.8 L272.50 360.0 L273.00 379.7 L273.50 358.8 L274.00 376.1 L274.50 353.9 L275.00 378.1 L275.50 343.2 L276.00 376.5 L276.50 365.2 L277.00 372.9 L277.50 362.6 L278.00 372.5 L278.50 363.5 L279.00 371.6 L279.50 362.3 L280.00 371.9 L280.50 359.0 L281.00 386.5 L281.50 359.3 L282.00 384.7 L282.50 358.6 L283.00 385.2 L283.50 360.0 L284.00 376.5 L284.50 346.6 L285.00 375.3 L285.50 345.2 L286.00 376.3 L286.50 346.0 L287.00 375.4 L287.50 346.0 L288.00 375.0 L288.50 346.9 L289.00 376.0 L289.50 353.0 L290.00 377.0 L290.50 350.3 L291.00 375.6 L291.50 350.5 L292.00 375.8 L292.50 350.5 L293.00 376.0 L293.50 350.2 L294.00 377.1 L294.50 349.5 L295.00 375.9 L295.50 346.5 L296.00 376.7 L296.50 345.4 L297.00 376.7 L297.50 346.9 L298.00 377.0 L298.50 345.3 L299.00 377.7 L299.50 350.9 L300.00 372.3 L300.50 358.9 L301.00 373.2 L301.50 358.9 L302.00 372.3 L302.50 359.5 L303.00 372.1 L303.50 357.9 L304.00 374.4 L304.50 358.8 L305.00 377.3 L305.50 359.3 L306.00 371.9 L306.50 359.4 L307.00 372.9 L307.50 357.4 L308.00 372.0 L308.50 358.3 L309.00 373.1 L309.50 355.9 L310.00 389.4 L310.50 355.0 L311.00 370.9 L311.50 363.5 L312.00 380.3 L312.50 362.6 L313.00 380.9 L313.50 363.5 L314.00 382.9 L314.50 359.0 L315.00 372.4 L315.50 358.4 L316.00 380.1 L316.50 360.2 L317.00 379.9 L317.50 362.6 L318.00 380.1 L318.50 361.3 L319.00 381.3 L319.50 363.6 L320.00 379.6 L320.50 362.2 L321.00 376.6 L321.50 364.2 L322.00 377.1 L322.50 362.5 L323.00 377.5 L323.50 363.8 L324.00 376.5 L324.50 363.7 L325.00 375.7 L325.50 364.0 L326.00 376.0 L326.50 362.4 L327.00 377.7 L327.50 354.3 L328.00 375.5 L328.50 354.9 L329.00 375.6 L329.50 340.7 L330.00 378.5 L330.50 348.6 L331.00 376.1 L331.50 346.2 L332.00 381.1 L332.50 346.9 L333.00 381.0 L333.50 358.0 L334.00 381.3 L334.50 344.5 L335.00 372.5 L335.50 359.4 L336.00 372.0 L336.50 358.0 L337.00 373.1 L337.50 359.4 L338.00 371.3 L338.50 359.9 L339.00 380.5 L339.50 359.1 L340.00 382.3 L340.50 354.6 L341.00 379.2 L341.50 354.1 L342.00 380.8 L342.50 353.0 L343.00 379.2 L343.50 355.1 L344.00 376.1 L344.50 354.3 L345.00 376.7 L345.50 360.6 L346.00 376.3 L346.50 353.9 L347.00 373.0 L347.50 356.1 L348.00 372.5 L348.50 354.8 L349.00 379.4 L349.50 351.1 L350.00 380.9 L350.50 359.7 L351.00 380.6 L351.50 359.1 L352.00 380.0 L352.50 361.1 L353.00 381.7 L353.50 358.8 L354.00 380.4 L354.50 360.2 L355.00 379.4 L355.50 358.4 L356.00 376.3 L356.50 360.2 L357.00 374.6 L357.50 360.5 L358.00 372.0 L358.50 357.9 L359.00 371.8 L359.50 351.5 L360.00 371.9 L360.50 351.3 L361.00 376.6 L361.50 347.0 L362.00 376.4 L362.50 355.3 L363.00 376.8 L363.50 354.9 L364.00 372.4 L364.50 356.0 L365.00 373.5 L365.50 354.6 L366.00 376.4 L366.50 345.5 L367.00 377.4 L367.50 348.0 L368.00 376.2 L368.50 347.8 L369.00 376.0 L369.50 345.1 L370.00 356.2 L370.45 371.8 L370.90 356.1 L371.35 371.3 L371.80 360.4 L372.25 368.8 L373.40 340.0 L374.20 374.0 L374.80 354.1 L375.25 373.5 L375.70 355.6 L376.15 372.7 L376.60 354.7 L377.05 371.9 L378.30 283.2 L378.90 372.0 L379.60 335.0 L380.20 189.8 L381.90 466.4 L383.20 362.0 L384.10 384.0 L385.40 321.8 L386.50 482.7 L388.00 374.0 L388.80 357.0 L389.60 377.0 L390.50 357.0 L391.50 374.0 L392.50 344.5 L393.50 376.0 L394.00 375.7 L394.50 359.2 L395.00 376.3 L395.50 354.5 L396.00 378.0 L396.50 356.3 L397.00 380.4 L397.50 360.7 L398.00 380.3 L398.50 359.8 L399.00 379.7 L399.50 353.9 L400.00 381.5 L400.50 359.6 L401.00 380.2 L401.50 361.5 L402.00 375.9 L402.50 360.0 L403.00 375.9 L403.50 361.0 L404.00 376.9 L404.50 358.0 L405.00 377.1 L405.50 359.3 L406.00 372.4 L406.50 348.8 L407.00 372.9 L407.50 351.5 L408.00 373.0 L408.50 350.2 L409.00 372.4 L409.50 363.7 L410.00 373.4 L410.50 362.2 L411.00 372.2 L411.50 362.8 L412.00 371.9 L412.50 364.0 L413.00 372.9 L413.50 363.7 L414.00 372.3 L414.50 363.2 L415.00 371.9 L415.50 355.8 L416.00 372.5 L416.50 356.2 L417.00 377.0 L417.50 355.5 L418.00 375.9 L418.50 360.2 L419.00 380.7 L419.50 360.5 L420.00 379.8 L420.50 351.3 L421.00 381.6 L421.50 350.0 L422.00 375.9 L422.50 349.4 L423.00 376.9 L423.50 351.3 L424.00 371.9 L424.50 354.4 L425.00 371.8 L425.50 354.7 L426.00 373.0 L426.50 359.0 L427.00 375.6 L427.50 359.6 L428.00 375.7 L428.50 358.5 L429.00 377.6 L429.50 359.3 L430.00 373.1 L430.50 362.3 L431.00 377.3 L431.50 359.3 L432.00 377.7 L432.50 359.2 L433.00 371.8 L433.50 358.6 L434.00 371.6 L434.50 357.9 L435.00 371.9 L435.50 358.7 L436.00 372.7 L436.50 350.3 L437.00 371.9 L437.50 362.9 L438.00 381.7 L438.50 343.2 L439.00 380.1 L439.50 364.6 L440.00 379.3 L440.50 362.6 L441.00 379.7 L441.50 363.2 L442.00 380.9 L442.50 347.1 L443.00 380.5 L443.50 345.2 L444.00 381.3 L444.50 363.1 L445.00 377.5 L445.50 363.0 L446.00 375.4 L446.50 362.7 L447.00 376.8 L447.50 351.2 L448.00 374.8 L448.50 350.9 L449.00 377.1 L449.50 350.6 L450.00 376.3 L450.50 350.2 L451.00 377.6 L451.50 350.2 L452.00 371.9 L452.50 353.9 L453.00 372.9 L453.50 348.2 L454.00 372.0 L454.50 361.9 L455.00 372.6 L455.50 363.2 L456.00 380.6 L456.50 349.7 L457.00 371.3 L457.50 349.7 L458.00 371.2 L458.50 351.1 L459.00 371.5 L459.50 351.1 L460.00 372.2 L460.50 350.9 L461.00 379.9 L461.50 350.3 L462.00 380.6 L462.50 363.5 L463.00 381.4 L463.50 364.0 L464.00 357.2 L464.45 375.3 L464.90 355.8 L465.35 373.7 L465.80 357.2 L466.60 352.0 L467.50 378.0 L468.70 318.6 L469.40 379.0 L470.20 322.0 L471.00 380.0 L471.80 320.0 L472.70 309.4 L473.50 383.0 L474.40 100.2 L475.20 719.2 L475.60 136.0 L476.20 293.3 L476.80 435.4 L477.40 295.3 L478.00 434.9 L478.60 296.5 L479.20 435.0 L479.80 297.5 L480.40 435.3 L481.20 288.8 L481.90 436.0 L482.50 301.3 L483.10 434.7 L483.70 301.0 L484.70 298.8 L485.60 433.0 L486.40 330.0 L487.20 430.0 L488.20 380.0 L489.10 243.4 L490.00 400.0 L490.90 276.2 L491.80 467.4 L493.00 378.0 L494.00 462.0 L494.80 366.0 L495.30 364.3 L495.80 377.9 L496.30 364.8 L496.80 376.9 L497.30 362.8 L497.80 377.0 L498.30 365.1 L498.80 377.0 L499.40 358.8 L499.90 376.6 L500.40 354.2 L500.90 376.7 L501.40 350.4 L501.90 375.7 L502.40 347.8 L502.90 376.3 L503.40 343.8 L503.90 375.5 L504.40 343.4 L504.90 377.4 L505.40 344.0 L505.90 378.2 L506.40 342.2 L506.90 378.1 L507.40 344.1 L507.90 377.7 L508.60 348.0 L509.90 388.6 L510.80 350.0 L511.70 376.0 L512.90 279.6 L513.70 380.0 L514.50 322.8 L515.60 384.0 L516.60 350.0 L518.00 414.1 L519.20 364.0 L520.00 380.0 L520.60 362.0 L521.20 359.3 L521.70 370.5 L522.20 353.9 L522.70 370.2 L523.20 350.2 L524.20 340.2 L524.90 370.0 L525.50 340.5 L526.20 370.0 L526.80 353.8 L527.30 368.0 L527.80 353.2 L528.30 366.7 L528.80 354.4 L529.30 368.9 L529.80 355.5 L530.30 366.9 L530.80 356.1 L531.30 367.7 L531.80 357.9 L532.60 349.0 L533.40 374.0 L534.20 352.0 L535.00 199.6 L535.80 126.5 L536.90 627.4 L538.30 366.0 L539.00 380.0 L539.80 358.0 L540.40 361.1 L540.90 374.2 L541.40 359.5 L541.90 376.2 L542.80 364.0 L543.40 377.0 L544.00 365.0 L544.60 357.8 L545.10 375.6 L545.60 358.9 L546.10 376.5 L546.60 357.7 L547.10 375.8 L547.60 357.1 L548.90 381.6 L549.80 357.0 L550.50 358.3 L551.00 385.0 L551.50 356.3 L552.00 384.4 L552.50 353.4 L553.00 375.6 L553.50 352.3 L554.00 377.3 L554.50 352.1 L555.00 377.9 L555.50 349.5 L556.00 377.4 L556.50 347.7 L557.00 375.7 L557.50 348.6 L558.00 380.6 L558.50 349.6 L559.00 381.4 L559.50 365.4 L560.00 381.0 L560.50 365.3 L561.00 379.5 L561.50 365.3 L562.00 372.1 L562.50 366.7 L563.00 372.2 L563.50 367.1 L564.00 370.9 L564.50 357.1 L565.00 372.5 L565.50 356.6 L566.00 373.4 L566.50 366.8 L567.00 371.8 L567.50 365.8 L568.00 373.5 L568.50 366.0 L569.00 373.2 L569.50 366.0 L570.00 380.5 L570.50 339.5 L571.00 377.2 L571.50 348.9 L572.00 376.9 L572.50 348.2 L573.00 386.4 L573.50 348.9 L574.00 378.8 L574.50 348.4 L575.00 376.1 L575.50 349.2 L576.00 376.4 L576.50 358.0 L577.00 375.5 L577.50 358.5 L578.00 374.9 L578.50 358.4 L579.00 375.5 L579.50 362.6 L580.00 385.6 L580.50 361.2 L581.00 384.7 L581.50 361.9 L582.00 373.7 L582.50 361.9 L583.00 376.2 L583.50 361.9 L584.00 377.3 L584.50 360.8 L585.00 382.1 L585.50 362.8 L586.00 382.1 L586.50 361.5 L587.00 380.2 L587.50 362.0 L588.00 380.6 L588.50 361.8 L589.00 379.4 L589.50 361.0 L590.00 372.6 L590.50 366.7 L591.00 372.0 L591.50 367.3 L592.00 383.9 L592.50 362.2 L593.00 370.8 L593.50 352.6 L594.00 379.7 L594.50 354.0 L595.00 381.6 L595.50 343.2 L596.00 380.8 L596.50 359.2 L597.00 379.5 L597.50 357.2 L598.00 380.6 L598.50 354.7 L599.00 380.5 L599.50 351.6 L600.00 372.4 L600.50 353.7 L601.00 371.5 L601.50 352.1 L602.00 372.6 L602.50 361.2 L603.00 372.4 L603.50 362.1 L604.00 376.8 L604.50 361.1 L605.00 374.9 L605.50 356.8 L606.00 377.0 L606.50 353.8 L607.00 376.0 L607.50 353.5 L608.00 377.2 L608.50 366.4 L609.00 371.8 L609.50 358.6 L610.00 372.2 L610.50 358.0 L611.00 370.8 L611.50 356.2 L612.00 372.4 L612.50 359.4 L613.00 380.7 L613.50 348.2 L614.00 381.7 L614.50 349.5 L615.00 380.6 L615.50 348.5 L616.00 379.8 L616.50 349.6 L617.00 381.6 L617.50 350.0 L618.00 371.1 L618.50 344.8 L619.00 371.9 L619.50 344.6 L620.00 372.4 L620.50 359.9 L621.00 373.0 L621.50 363.0 L622.00 372.2 L622.50 361.5 L623.00 372.5 L623.50 362.3 L624.00 375.8 L624.50 366.4 L625.00 376.6 L625.50 365.8 L626.00 376.2 L626.50 366.8 L627.00 379.6 L627.50 365.3 L628.00 380.4 L628.50 367.4 L629.00 381.7 L629.50 365.9 L630.00 378.5 L630.50 347.0 L631.00 376.8 L631.50 358.9 L632.00 377.2 L632.50 357.5 L633.00 377.3 L633.50 357.7 L634.00 376.6 L634.50 357.4 L635.00 376.5 L635.50 359.1 L636.00 379.8 L636.50 354.0 L637.00 380.4 L637.50 353.4 L638.00 379.5 L638.50 353.7 L639.00 375.3 L639.50 348.3 L640.00 380.1 L640.50 349.6 L641.00 380.7 L641.50 349.1 L642.00 380.9 L642.50 350.3 L643.00 376.4 L643.50 358.3 L644.00 376.4 L644.50 358.2 L645.00 377.8 L645.50 356.1 L646.00 375.1 L646.50 357.3 L647.00 379.3 L647.50 350.2 L648.00 375.6 L648.50 348.5 L649.00 375.3 L649.50 360.2 L650.00 377.3 L650.50 361.0 L651.00 376.7 L651.50 361.2 L652.00 380.1 L652.50 362.1 L653.00 372.9 L653.50 362.3 L654.00 372.8 L654.50 358.5 L655.00 379.3 L655.50 356.2 L656.00 380.6 L656.50 355.2 L657.00 382.1 L657.50 353.4 L658.00 380.7 L658.50 352.8 L659.00 380.0 L659.50 347.0 L660.00 380.5 L660.50 356.7 L661.00 380.6 L661.50 357.7 L662.00 376.0 L662.50 357.6 L663.00 377.6 L663.50 359.0 L664.00 376.4 L664.50 363.3 L665.00 376.8 L665.50 360.2 L666.00 376.2 L666.50 361.5 L667.00 375.8 L667.50 361.4 L668.00 371.9 L668.50 339.5 L669.00 373.1 L669.50 352.5 L670.00 381.6 L670.50 351.8 L671.00 382.3 L671.50 352.3 L672.00 381.4 L672.50 353.5 L673.00 380.9 L673.50 354.0 L674.00 381.0 L674.50 362.5 L675.00 377.5 L675.50 360.9 L676.00 377.1 L676.50 361.2 L677.00 376.5 L677.50 361.8 L678.00 376.1 L678.50 352.8 L679.00 375.5 L679.50 354.2 L680.00 372.7 L680.50 353.7 L681.00 370.1 L681.50 363.0 L682.00 373.4 L682.50 360.7 L683.00 372.0 L683.50 361.7 L684.00 372.9 L684.50 344.5 L685.00 382.6 L685.50 345.0 L686.00 377.8 L686.50 343.9 L687.00 380.3 L687.50 345.2 L688.00 379.8 L688.50 356.4 L689.00 379.6 L689.50 357.0 L690.00 380.6 L690.50 357.1 L691.00 381.1 L691.50 358.2 L692.00 380.7 L692.50 357.4 L693.00 380.2 L693.50 356.8 L694.00 377.3 L694.50 356.4 L695.00 371.7 L695.50 356.7 L696.00 376.4 L696.50 359.4 L697.00 376.6 L697.50 358.1 L698.00 376.0 L698.50 359.2 L699.00 376.5 L699.50 356.8 L700.00 371.4 L700.50 357.6 L701.00 372.2 L701.50 356.1 L702.00 372.0 L702.50 352.8 L703.00 372.5 L703.50 353.6 L704.00 376.2 L704.50 353.1 L705.00 376.7 L705.50 353.4 L706.00 375.6 L706.50 352.5 L707.00 377.3 L707.50 358.3 L708.00 385.1 L708.50 356.9 L709.00 376.5 L709.50 357.4 L710.00 374.9 L710.50 357.7 L711.00 376.0 L711.50 357.5 L712.00 377.2 L712.50 357.8 L713.00 376.6 L713.50 361.5 L714.00 377.1 L714.50 345.7 L715.00 375.8 L715.50 362.0 L716.00 376.6 L716.50 349.1 L717.00 376.0 L717.50 349.6 L718.00 377.4 L718.50 349.0 L719.00 377.9 L719.50 348.2 L720.00 377.8 L720.50 349.3 L721.00 372.5 L721.50 349.3 L722.00 373.2 L722.50 344.5 L723.00 371.0 L723.50 356.4 L724.00 375.8 L724.50 356.9 L725.00 375.7 L725.50 357.9 L726.00 375.7 L726.50 357.3 L727.00 376.8 L727.50 356.8 L728.00 376.8 L728.50 356.9 L729.00 374.8 L729.50 358.7 L730.00 376.0 L730.50 357.4 L731.00 376.2 L731.50 358.7 L732.00 377.3 L732.50 358.3 L733.00 376.3 L733.50 358.5 L734.00 376.7 L734.50 355.8 L735.00 371.6 L735.50 357.9 L736.00 371.8 L736.50 340.7 L737.00 371.3 L737.50 357.4 L738.00 374.0 L738.50 365.8 L739.00 375.7 L739.50 366.5 L740.00 374.5 L740.50 357.3 L741.00 376.1 L741.50 358.8 L742.00 383.9 L742.50 357.0 L743.00 381.4 L743.50 358.0 L744.00 380.2 L744.50 357.2 L745.00 381.3 L745.50 357.9 L746.00 381.6 L746.50 357.5 L747.00 372.6 L747.50 358.7 L748.00 371.7 L748.50 357.4 L749.00 372.2 L749.50 354.2 L750.00 372.8 L750.50 353.9 L751.00 377.1 L751.50 351.9 L752.00 376.5 L752.50 361.2 L753.00 375.2 L753.50 360.7 L754.00 372.0 L754.50 361.4 L755.00 372.0 L755.50 355.6 L756.00 372.9 L756.50 357.7 L757.00 381.4 L757.50 357.2 L758.00 371.0 L758.50 359.1 L759.00 376.7 L759.50 357.5 L760.00 376.5 L760.50 349.4 L761.00 377.5 L761.50 348.4 L762.00 377.5 L762.50 348.9 L763.00 377.3 L763.50 348.6 L764.00 375.8 L764.50 349.6 L765.00 377.1 L765.50 347.8 L766.00 377.5 L766.50 349.3 L767.00 378.1 L767.50 350.3 L768.00 380.1 L768.50 350.1 L769.00 377.4 L769.50 349.5 L770.00 377.4 L770.50 349.0 L771.00 375.5 L771.50 360.1 L772.00 376.1 L772.50 360.5 L773.00 375.6 L773.50 347.0 L774.00 375.1 L774.50 347.6 L775.00 372.9 L775.50 348.8 L776.00 373.1 L776.50 348.1 L777.00 372.7 L777.50 349.8 L778.00 372.9 L778.50 339.5 L779.00 372.3 L779.50 362.6 L780.00 372.6 L780.50 362.7 L781.00 372.6 L781.50 365.8 L782.00 372.2 L782.50 365.0 L783.00 387.0 L783.50 344.5 L784.00 385.0 L784.50 352.4 L785.00 384.5 L785.50 361.1 L786.00 381.4 L786.50 360.7 L787.00 380.7 L787.50 362.9 L788.00 380.3 L788.50 361.9 L789.00 379.3 L789.50 361.3 L790.00 376.4 L790.50 347.9 L791.00 384.0 L791.50 348.3 L792.00 384.6 L792.50 348.8 L793.00 385.5 L793.50 349.3 L794.00 375.6 L794.50 348.2 L795.00 376.2 L795.50 354.9 L796.00 376.2 L796.50 357.5 L797.00 375.9 L797.50 356.3 L798.00 376.0 L798.50 358.2 L799.00 377.0 L799.50 357.3 L800.00 376.3 L800.50 357.2 L801.00 376.1 L801.50 358.1 L802.00 377.3 L802.50 352.4 L803.00 374.8 L803.50 349.4 L804.00 376.2 L804.50 353.4 L805.00 376.5 L805.50 351.5 L806.00 372.9 L806.50 347.9 L807.00 373.8 L807.50 349.2 L808.00 372.6 L808.50 350.1 L809.00 371.8 L809.50 349.1 L810.00 371.4 L810.50 349.1 L811.00 373.0 L811.50 349.4 L812.00 370.8 L812.50 357.1 L813.00 372.6 L813.50 357.3 L814.00 372.8 L814.50 358.8 L815.00 376.5 L815.50 353.1 L816.00 377.4 L816.50 353.9 L817.00 376.1 L817.50 367.6 L818.00 380.2 L818.50 360.6 L819.00 380.3 L819.50 362.5 L820.00 380.2 L820.50 363.2 L821.00 381.7 L821.50 349.7 L822.00 380.7 L822.50 350.1 L823.00 382.9 L823.50 348.9 L824.00 379.0 L824.50 350.2 L825.00 376.2 L825.50 366.5 L826.00 375.7 L826.50 365.4 L827.00 376.3 L827.50 365.9 L828.00 377.2 L828.50 366.3 L829.00 377.7 L829.50 358.4 L830.00 377.2 L830.50 358.8 L831.00 377.4 L831.50 362.1 L832.00 375.9 L832.50 361.6 L833.00 376.3 L833.50 361.3 L834.00 376.8 L834.50 362.1 L835.00 375.0 L835.50 361.5 L836.00 374.6 L836.50 342.0 L837.00 374.6 L837.50 352.4 L838.00 375.4 L838.50 366.4 L839.00 376.7 L839.50 364.7 L840.00 376.7 L840.50 345.2 L841.00 377.6 L841.50 345.0 L842.00 376.0 L842.50 344.1 L843.00 376.0 L843.50 345.8 L844.00 375.6 L844.50 343.4 L845.00 375.5 L845.50 354.3 L846.00 375.1 L846.50 353.7 L847.00 377.0 L847.50 353.4 L848.00 376.0 L848.50 352.1 L849.00 376.3 L849.50 357.8 L850.00 376.0 L850.50 357.3 L851.00 378.8 L851.50 362.2 L852.00 380.6 L852.50 348.2 L853.00 381.6 L853.50 349.4 L854.00 380.9 L854.50 347.5 L855.00 381.3 L855.50 361.2 L856.00 371.7 L856.50 361.4 L857.00 372.8 L857.50 362.4 L858.00 373.4 L858.50 338.2 L859.00 373.8 L859.50 362.1 L860.00 372.3 L860.50 361.2 L861.00 380.2 L861.50 361.4 L862.00 381.9 L862.50 360.9 L863.00 379.6 L863.50 362.2 L864.00 380.5 L864.50 353.1 L865.00 381.2 L865.50 361.6 L866.00 372.9 L866.50 362.5 L867.00 371.6 L867.50 362.2 L868.00 372.9 L868.50 357.5 L869.00 380.2 L869.50 357.1 L870.00 380.9 L870.50 358.9 L871.00 379.9 L871.50 357.5 L872.00 380.2 L872.50 364.5 L873.00 381.4 L873.50 365.4 L874.00 379.7 L874.50 365.5 L875.00 376.4 L875.50 365.1 L876.00 375.6 L876.50 364.7 L877.00 376.5 L877.50 362.2 L878.00 372.1 L878.50 362.3 L879.00 373.0 L879.50 342.0 L880.00 373.0 L880.50 349.3 L881.00 372.5 L881.50 347.6 L882.00 377.1 L882.50 349.3 L883.00 380.4 L883.50 358.6 L884.00 381.6 L884.50 357.2 L885.00 381.1 L885.50 357.9 L886.00 381.0 L886.50 357.3 L887.00 375.5 L887.50 356.7 L888.00 376.4 L888.50 361.9 L889.00 375.7 L889.50 357.8 L890.00 375.9 L890.50 358.3 L891.00 377.9 L891.50 356.9 L892.00 376.4 L892.50 365.9 L893.00 374.7 L893.50 366.9 L894.00 375.9 L894.50 366.5 L895.00 375.9 L895.50 367.1 L896.00 377.2 L896.50 362.4 L897.00 374.9 L897.50 361.1 L898.00 377.1 L898.50 362.3 L899.00 376.6 L899.50 356.8 L900.00 372.9 L900.50 357.0 L901.00 372.1 L901.50 358.5 L902.00 372.9 L902.50 357.7 L903.00 372.5 L903.50 358.5 L904.00 370.8 L904.50 356.0 L905.00 375.7 L905.50 361.3 L906.00 383.2 L906.50 344.5 L907.00 373.2 L907.50 356.6 L908.00 371.5 L908.50 355.5 L909.00 382.6 L909.50 357.1 L910.00 370.9 L910.50 358.5 L911.00 371.2 L911.50 364.3 L912.00 380.2 L912.50 366.0 L913.00 380.8 L913.50 364.6 L914.00 380.4 L914.50 364.5 L915.00 381.4 L915.50 364.4 L916.00 372.0 L916.50 364.7 L917.00 371.0 L917.50 360.5 L918.00 370.7 L918.50 360.2 L919.00 377.1 L919.50 358.9 L920.00 375.5 L920.50 361.1 L921.00 376.9 L921.50 360.2 L922.00 375.6 L922.50 365.1 L923.00 376.6 L923.50 365.9 L924.00 372.0 L924.50 364.3 L925.00 371.7 L925.50 365.7 L926.00 371.7 L926.50 364.2 L927.00 372.6 L927.50 365.1 L928.00 371.5 L928.50 366.4 L929.00 371.0 L929.50 363.8 L930.00 370.9 L930.50 365.1 L931.00 372.3 L931.50 356.0 L932.00 375.3 L932.50 355.6 L933.00 375.4 L933.50 355.1 L934.00 377.7 L934.50 352.4 L935.00 375.1 L935.50 351.8 L936.00 382.5 L936.50 352.5 L937.00 384.7 L937.50 352.7 L938.00 384.1 L938.50 352.7 L939.00 379.9 L939.50 352.3 L940.00 380.1 L940.50 352.0 L941.00 379.0 L941.50 352.1 L942.00 379.4 L942.50 352.4 L943.00 379.1 L943.50 350.1 L944.00 383.4 L944.50 349.8 L945.00 383.6 L945.50 351.4 L946.00 382.4 L946.50 360.8 L947.00 383.2 L947.50 360.5 L948.00 383.3 L948.50 360.9 L949.00 383.4 L949.50 357.5 L950.00 383.8 L950.50 359.5 L951.00 384.4 L951.50 365.1 L952.00 373.8 L952.50 363.1 L953.00 373.8 L953.50 363.0 L954.00 374.5 L954.50 363.0 L955.00 375.9 L955.50 365.3 L956.00 375.7 L956.50 358.9 L957.00 375.3 L957.50 359.0 L958.00 375.0 L958.50 360.5 L959.00 373.0 L959.50 357.5 L960.00 375.5 L960.50 363.9 L961.00 379.0 L961.50 362.6 L962.00 380.0 L962.50 362.6 L963.00 379.9 L963.50 364.2 L964.00 380.2 L964.50 350.8 L965.00 377.9 L965.50 349.4 L966.00 378.8 L966.50 356.3 L967.00 378.0 L967.50 355.8 L968.00 374.5 L968.50 356.1 L969.00 375.4 L969.50 355.1 L970.00 373.4 L970.50 355.6 L971.00 374.5 L971.50 354.5 L972.00 374.1 L972.50 354.8 L973.00 387.6 L973.50 355.0 L974.00 373.3 L974.50 353.7 L975.00 379.0 L975.50 350.3 L976.00 374.8 L976.50 355.4 L977.00 375.1 L977.50 344.5 L978.00 376.4 L978.50 359.8 L979.00 374.2 L979.50 351.3 L980.00 372.4 L980.50 350.7 L981.00 374.1 L981.50 363.2 L982.00 374.7 L982.50 364.6 L983.00 374.5 L983.50 363.1 L984.00 373.6 L984.50 364.0 L985.00 379.6 L985.50 363.7 L986.00 378.6 L986.50 351.3 L987.00 369.4 L987.50 350.8 L988.00 370.1 L988.50 350.8 L989.00 373.6 L989.50 351.6 L990.00 374.1 L990.50 359.1 L991.00 373.5 L991.50 360.8 L992.00 375.2 L992.50 359.1 L993.00 373.3 L993.50 359.6 L994.00 374.1 L994.50 351.6 L995.00 373.7 L995.50 351.4 L996.00 374.7 L996.50 350.2 L997.00 374.6 L997.50 363.0 L998.00 374.2 L998.50 365.1 L999.00 372.3 L999.50 347.1 L1000.00 374.0 L1000.50 359.3 L1001.00 373.9 L1001.50 357.8 L1002.00 370.5 L1002.50 358.9 L1003.00 370.2 L1003.50 360.1 L1004.00 369.9 L1004.50 364.2 L1005.00 369.2 L1005.50 364.0 L1006.00 369.7 L1006.50 363.4 L1007.00 375.9 L1007.50 363.2 L1008.00 382.4 L1008.50 358.6 L1009.00 368.4 L1009.50 359.3 L1010.00 369.6 L1010.50 360.2 L1011.00 371.3 L1011.50 360.2 L1012.00 370.6 L1012.50 358.6 L1013.00 371.4 L1013.50 358.8 L1014.00 370.0 L1014.50 358.8 L1015.00 373.4 L1015.50 355.4 L1016.00 374.5 L1016.50 350.0 L1017.00 374.7 L1017.50 350.4 L1018.00 372.9 L1018.50 359.5 L1019.00 372.9 L1019.50 358.5 L1020.00 374.1 L1020.50 359.5 L1021.00 374.5 L1021.50 364.6 L1022.00 375.2 L1022.50 363.7 L1023.00 373.9 L1023.50 363.2 L1024.00 372.2 L1024.50 362.2 L1025.00 373.9 L1025.50 356.0 L1026.00 375.9 L1026.50 350.8 L1027.00 374.0 L1027.50 358.9 L1028.00 374.8 L1028.50 359.0 L1029.00 374.2 L1029.50 360.0 L1030.00 378.2 L1030.50 357.6 L1031.00 379.0 L1031.50 359.0 L1032.00 379.5 L1032.50 345.7 L1033.00 379.8 L1033.50 353.6 L1034.00 378.1 L1034.50 354.9 L1035.00 368.5 L1035.50 354.4 L1036.00 370.2 L1036.50 354.0 L1037.00 374.4 L1037.50 346.2 L1038.00 372.8 L1038.50 363.4 L1039.00 373.8 L1039.50 363.6 L1040.00 374.3 L1040.50 362.9 L1041.00 374.3 L1041.50 363.6 L1042.00 375.1 L1042.50 358.3 L1043.00 373.1 L1043.50 357.8 L1044.00 374.7 L1044.50 345.7 L1045.00 370.3 L1045.50 358.5 L1046.00 370.2 L1046.50 359.4 L1047.00 369.9 L1047.50 351.3 L1048.00 386.4 L1048.50 354.7 L1049.00 369.5 L1049.50 345.7 L1050.00 368.6 L1050.50 354.9 L1051.00 383.6 L1051.50 356.1 L1052.00 383.0 L1052.50 354.1 L1053.00 381.2 L1053.50 355.1 L1054.00 373.8 L1054.50 354.3 L1055.00 374.7 L1055.50 354.6 L1056.00 374.3 L1056.50 355.4 L1057.00 374.2 L1057.50 345.7 L1058.00 373.2 L1058.50 345.5 L1059.00 369.7 L1059.50 346.7 L1060.00 369.1 L1060.50 346.7 L1061.00 386.3 L1061.50 359.1 L1062.00 386.9 L1062.50 359.1 L1063.00 382.1 L1063.50 359.1 L1064.00 377.0 L1064.50 359.0 L1065.00 378.9 L1065.50 358.7 L1066.00 380.1 L1066.50 357.9 L1067.00 377.5 L1067.50 358.8 L1068.00 378.8 L1068.50 359.4 L1069.00 378.9 L1069.50 358.0 L1070.00 368.7 L1070.50 358.6 L1071.00 370.3 L1071.50 358.3 L1072.00 370.0 L1072.50 358.4 L1073.00 370.1 L1073.50 357.5 L1074.00 370.7 L1074.50 358.5 L1075.00 379.1 L1075.50 346.0 L1076.00 379.7 L1076.50 347.0 L1077.00 379.3 L1077.50 347.3 L1078.00 379.7 L1078.50 354.7 L1079.00 379.7 L1079.50 353.9 L1080.00 378.4 L1080.50 354.6 L1081.00 372.5 L1081.50 353.4 L1082.00 372.8 L1082.50 354.0 L1083.00 372.5 L1083.50 353.4 L1084.00 372.2 L1084.50 353.4 L1085.00 372.4 L1085.50 347.1 L1086.00 373.2 L1086.50 356.5 L1087.00 373.2 L1087.50 355.8" stroke="#ef8636"/>
</g>
<rect x="143.0" y="60.0" width="992.0" height="740.0" fill="none" stroke="#000" stroke-width="2.1"/>
<path d="M183 800.0 v9.7 M349 800.0 v9.7 M517 800.0 v9.7 M683 800.0 v9.7 M851 800.0 v9.7 M1019 800.0 v9.7 M143.0 74 h-9.7 M143.0 194 h-9.7 M143.0 316 h-9.7 M143.0 438 h-9.7 M143.0 558 h-9.7 M143.0 680 h-9.7" stroke="#000" stroke-width="2.1" fill="none"/>
<g font-size="27.78px">
<text transform="translate(180.70 841.00) scale(1 0.945)" text-anchor="middle">1.824</text>
<text transform="translate(346.70 841.00) scale(1 0.945)" text-anchor="middle">1.825</text>
<text transform="translate(514.70 841.00) scale(1 0.945)" text-anchor="middle">1.826</text>
<text transform="translate(680.70 841.00) scale(1 0.945)" text-anchor="middle">1.827</text>
<text transform="translate(848.70 841.00) scale(1 0.945)" text-anchor="middle">1.828</text>
<text transform="translate(1016.70 841.00) scale(1 0.945)" text-anchor="middle">1.829</text>
<text transform="translate(121.80 84.30) scale(1 0.945)" text-anchor="end">10</text>
<text transform="translate(121.80 204.20) scale(1 0.945)" text-anchor="end">5</text>
<text transform="translate(121.80 327.00) scale(1 0.945)" text-anchor="end">0</text>
<text transform="translate(121.80 446.90) scale(1 0.945)" text-anchor="end">−5</text>
<text transform="translate(121.80 568.30) scale(1 0.945)" text-anchor="end">−10</text>
<text transform="translate(121.80 688.50) scale(1 0.945)" text-anchor="end">−15</text>
<text transform="translate(1132.50 876.70) scale(1 0.945)" text-anchor="end">1e6</text>
<text transform="translate(637.20 880.30) scale(1 0.945)" text-anchor="middle">Time (milliseconds)</text>
<text transform="translate(45.70 434.00) rotate(-90) scale(1 0.945)" text-anchor="middle">Degrees</text>
</g>
<g font-size="33.33px" letter-spacing="0.13"><text transform="translate(637.20 42.80) scale(1 0.955)" text-anchor="middle">Pitch and Roll</text></g>
<rect x="952.6" y="73.7" width="168.5" height="92.4" rx="5.5" fill="#fff" fill-opacity="0.8" stroke="#cccccc" stroke-opacity="0.8" stroke-width="2.2"/>
<path d="M960.1 96.9 H1020.2" stroke="#3b75af" stroke-width="4.17"/>
<path d="M960.1 138.6 H1020.2" stroke="#ef8636" stroke-width="4.17"/>
<g font-size="27.78px" letter-spacing="-0.3"><text transform="translate(1041.70 106.50) scale(1 0.945)">Pitch</text><text transform="translate(1041.70 148.30) scale(1 0.945)">Roll</text></g>
</g>
</svg>
</body></html>
